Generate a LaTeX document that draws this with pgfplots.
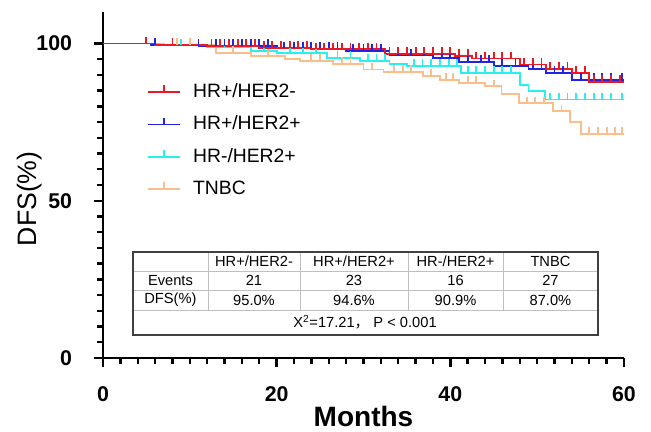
\documentclass[border=0pt]{standalone}
\usepackage{fontspec}
\setmainfont{Liberation Sans}
\newfontfamily\cjk{Noto Sans CJK SC}
\usepackage{pgfplots}
\pgfplotsset{compat=1.18}

\definecolor{cRed}{RGB}{235,25,35}
\definecolor{cBlue}{RGB}{35,35,230}
\definecolor{cCyan}{RGB}{40,240,240}
\definecolor{cOrange}{RGB}{250,190,140}

% censoring tick: short vertical stroke above the curve
\pgfdeclareplotmark{cens}{%
  \pgfpathmoveto{\pgfqpoint{0pt}{0pt}}%
  \pgfpathlineto{\pgfqpoint{0pt}{\pgfplotmarksize}}%
  \pgfusepathqstroke}

\begin{document}
\begin{tikzpicture}
\path[use as bounding box] (-77.25pt,-55.5pt) rectangle (411pt,268.5pt);
\begin{axis}[
  scale only axis,
  width=390.75pt, height=259.5pt,
  xmin=0, xmax=60, ymin=0, ymax=110,
  axis x line=bottom, axis y line=left,
  axis line style={-, line width=1.8pt},
  xtick={0,20,40,60}, ytick={0,50,100},
  minor x tick num=9, minor y tick num=9,
  tick align=outside,
  major tick length=7pt, minor tick length=4.5pt,
  every tick/.style={black, line width=1.8pt},
  /pgf/number format/assume math mode=true,
  tick label style={font=\fontsize{16}{19}\selectfont\bfseries, inner sep=0pt},
  xticklabel style={anchor=center, yshift=-20.25pt},
  yticklabel style={anchor=east, xshift=-16pt},
  xlabel={Months},
  ylabel={DFS(\%)},
  xlabel style={at={(axis description cs:0.5,0)}, anchor=center, yshift=-43.5pt,
    font=\fontsize{21}{24}\selectfont\bfseries},
  ylabel style={at={(axis description cs:-0.14,0.46)}, anchor=center,
    font=\fontsize{20}{24}\selectfont},
  clip=false,
  mark size=5pt,
  legend image code/.code={\draw[mark repeat=2,mark phase=2]
    plot coordinates {(0pt,0pt)(12pt,0pt)(24pt,0pt)};},
  legend cell align=left,
  legend style={at={(axis description cs:0.0845,0.80)}, anchor=north west,
    draw=none, fill=none, inner sep=0pt, row sep=8.25pt, column sep=8pt,
    font=\fontsize{14.5}{16}\selectfont,
    nodes={inner sep=1pt, text height=11pt, text depth=3pt}},
]
\addlegendimage{cRed, line width=1.4pt, mark=cens}
\addlegendimage{cBlue, line width=1.4pt, mark=cens}
\addlegendimage{cCyan, line width=1.4pt, mark=cens}
\addlegendimage{cOrange, line width=1.4pt, mark=cens}

% TNBC
\addplot[cOrange, line width=1.4pt, const plot, forget plot] coordinates {
(0,100)(7,99.5)(13,97.0)(17,96.0)(21,95.0)(22.7,94.4)(26.5,93.5)(30,91.7)(32.3,91.0)
(36.9,89.6)(38.8,88.5)(41,87.5)(44,86.4)(45.9,84.0)(47.9,81.0)(51.8,78.4)(53.8,75.0)
(55,71.2)(60,71.2)};
\addplot[cOrange, line width=1.4pt, only marks, mark=cens, forget plot] coordinates {
(5,100)(8.5,99.5)(10,99.5)(15,97.0)(19,96.0)(24,94.4)(25,94.4)(27.5,93.5)(28.5,93.5)
(31,91.7)(33.5,91.0)(34.5,91.0)(35.5,91.0)(37.8,89.6)(39.5,88.5)(40.3,88.5)(42,87.5)
(43,87.5)(45,86.4)(48.8,81.0)(49.8,81.0)(50.8,81.0)(52.8,78.4)(56,71.2)(57,71.2)
(58,71.2)(59,71.2)(59.8,71.2)};

% HR-/HER2+
\addplot[cCyan, line width=1.4pt, const plot, forget plot] coordinates {
(0,100)(6.5,99.4)(12,98.8)(17,97.6)(20,97.0)(25.8,95.4)(29.6,94.4)(33,93.6)(35,92.8)
(41.2,90.7)(48,86.9)(49,84.8)(50.9,82.2)(60,82.2)};
\addplot[cCyan, line width=1.4pt, only marks, mark=cens, forget plot] coordinates {
(9,99.4)(14,98.8)(18.5,97.6)(21.5,97.0)(23,97.0)(24.5,97.0)(27,95.4)(28.5,95.4)
(30.5,94.4)(31.5,94.4)(32.5,94.4)(35.8,92.8)(36.8,92.8)(37.8,92.8)(38.8,92.8)
(39.8,92.8)(40.8,92.8)(42,90.7)(43,90.7)(44,90.7)(45,90.7)(46,90.7)(47,90.7)
(51.5,82.2)(52.5,82.2)(53.5,82.2)(54.5,82.2)(55.5,82.2)(56.5,82.2)(57.5,82.2)
(58.5,82.2)(59.8,82.2)};

% HR+/HER2+
\addplot[cBlue, line width=1.4pt, const plot, forget plot] coordinates {
(0,100)(5.5,99.6)(11,99.2)(20,98.4)(28,97.7)(33,96.2)(38,95.4)(41,94.2)(45,92.8)
(49,91.9)(51,90.7)(54,88.5)(60,88.5)};
\addplot[cBlue, line width=1.4pt, only marks, mark=cens, forget plot] coordinates {
(6,99.6)(11,99.2)(13,99.2)(14,99.2)(15,99.2)(16,99.2)(17,99.2)(18,99.2)(19,99.2)
(20.8,98.4)(22,98.4)(23,98.4)(24,98.4)(25,98.4)(26,98.4)(27,98.4)(28.8,97.7)(30,97.7)
(31,97.7)(32,97.7)(34,96.2)(35.5,96.2)(37,96.2)(39,95.4)(40,95.4)(42,94.2)(43.5,94.2)
(44.5,94.2)(46,92.8)(47.5,92.8)(49.5,91.9)(50.5,91.9)(52,90.7)(53,90.7)(55,88.5)
(56.5,88.5)(57.5,88.5)(58.5,88.5)(59.8,88.5)};

% HR+/HER2-
\addplot[cRed, line width=1.4pt, const plot, forget plot] coordinates {
(0,100)(6,99.6)(12,99.2)(18,98.6)(24,98.1)(32.5,96.6)(40.5,96.0)(42.5,95.2)(48,93.3)
(51,91.9)(54,90.7)(56,87.8)(60,87.8)};
\addplot[cRed, line width=1.4pt, only marks, mark=cens, forget plot] coordinates {
(5,100)(8,99.6)(12.5,99.2)(13.5,99.2)(14.5,99.2)(15.5,99.2)(16.5,99.2)(17.5,99.2)
(18.5,98.6)(19.5,98.6)(20.5,98.6)(21.5,98.6)(22.5,98.6)(23.5,98.6)(24.5,98.1)
(25.5,98.1)(26.5,98.1)(27.5,98.1)(28.5,98.1)(29.5,98.1)(30.5,98.1)(31.5,98.1)
(33,96.6)(34,96.6)(35,96.6)(36,96.6)(37,96.6)(38,96.6)(39,96.6)(40,96.6)(41,96.0)
(42,96.0)(43,95.2)(44,95.2)(45,95.2)(46,95.2)(47,95.2)(48.5,93.3)(49.5,93.3)
(50.5,93.3)(51.5,91.9)(52.5,91.9)(53.5,91.9)(54.5,90.7)(55.5,90.7)(56.5,87.8)
(57.5,87.8)(58.5,87.8)(59.5,87.8)};

\legend{HR+/HER2-, HR+/HER2+, HR-/HER2+, TNBC}
\end{axis}

% summary table
\draw[black!25, line width=0.5pt]
  (22.5pt,65.25pt) -- (371.25pt,65.25pt)
  (22.5pt,51pt) -- (371.25pt,51pt)
  (22.5pt,36pt) -- (371.25pt,36pt)
  (78.75pt,79.5pt) -- (78.75pt,36pt)
  (147.75pt,79.5pt) -- (147.75pt,36pt)
  (228.75pt,79.5pt) -- (228.75pt,36pt)
  (300pt,79.5pt) -- (300pt,36pt);
\draw[black!75, line width=0.9pt] (22.5pt,17.25pt) rectangle (371.25pt,79.5pt);
\begin{scope}[every node/.style={font=\fontsize{11}{13}\selectfont, inner sep=0pt, anchor=center}]
\node at (113.25pt,72.4pt) {HR+/HER2-};
\node at (188.25pt,72.4pt) {HR+/HER2+};
\node at (264.4pt,72.4pt) {HR-/HER2+};
\node at (335.6pt,72.4pt) {TNBC};
\node at (50.6pt,58.1pt) {Events};
\node at (113.25pt,58.1pt) {21};
\node at (188.25pt,58.1pt) {23};
\node at (264.4pt,58.1pt) {16};
\node at (335.6pt,58.1pt) {27};
\node at (50.6pt,43.5pt) {DFS(\%)};
\node at (113.25pt,43.5pt) {95.0\%};
\node at (188.25pt,43.5pt) {94.6\%};
\node at (264.4pt,43.5pt) {90.9\%};
\node at (335.6pt,43.5pt) {87.0\%};
\node at (196.5pt,26.6pt) {X\textsuperscript{2}=17.21{\cjk ，} P < 0.001};
\end{scope}
\end{tikzpicture}
\end{document}
